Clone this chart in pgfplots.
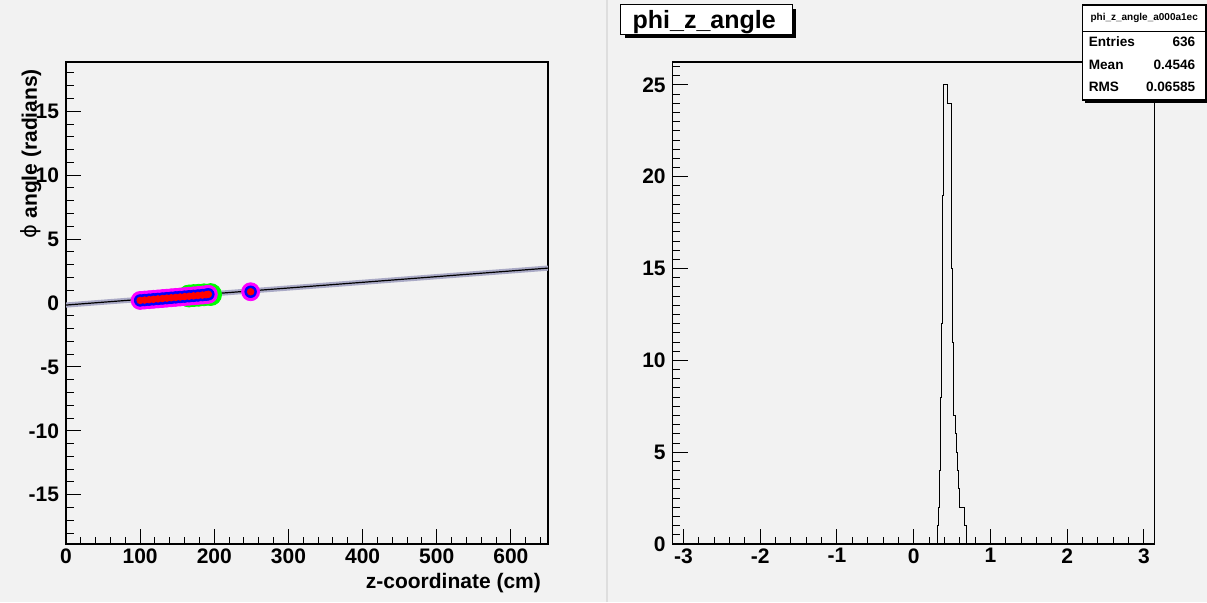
\documentclass[border=0pt]{standalone}
\usepackage{pgfplots}
\usepackage{pgfplotstable}
\pgfplotsset{compat=1.18}
\usepackage{fontspec}
\setmainfont{Liberation Sans}
\newfontfamily\symfont{DejaVu Sans}
\definecolor{bg}{RGB}{242,242,242}
\definecolor{sep}{RGB}{222,222,222}
\definecolor{band}{RGB}{170,170,198}
\definecolor{mag}{RGB}{255,0,255}
\definecolor{grn}{RGB}{0,255,0}
\definecolor{blu}{RGB}{0,0,255}
\definecolor{rd}{RGB}{255,0,0}

\pgfplotstableread{
z phi
100 0.20
106 0.23
112 0.26
118 0.29
124 0.32
130 0.35
136 0.38
142 0.41
148 0.44
154 0.47
160 0.50
166 0.53
172 0.56
178 0.59
184 0.62
189 0.65
192 0.68
249 0.88
}\hits

\pgfplotstableread{
z phi
166 0.55
172 0.58
179 0.61
186 0.64
195 0.66
}\greenhits

\pgfplotsset{rootaxis/.style={
  scale only axis, width=241pt, height=241pt,
  axis line style={line width=0.75pt},
  tick align=inside, tick pos=left,
  major tick length=7.5pt, minor tick length=3.75pt,
  every tick/.style={black, line width=0.5pt},
  ticklabel style={font=\bfseries\fontsize{10.5}{12}\selectfont},
  /pgf/number format/assume math mode=true,
  label style={font=\bfseries\fontsize{10.5}{12}\selectfont},
  axis background/.style={fill=bg},
  xticklabel style={inner sep=2pt},
}}

\begin{document}
\begin{tikzpicture}
\fill[bg] (0,0) rectangle (603.5pt,301pt);
\path[use as bounding box] (0,0) rectangle (603.5pt,301pt);
\draw[sep, line width=1pt] (303.5pt,0) -- (303.5pt,301pt);

% left pad
\begin{axis}[rootaxis, at={(33pt,29pt)}, anchor=south west,
  xmin=0, xmax=650, ymin=-18.85, ymax=18.85,
  xtick={0,100,...,600}, minor xtick={20,40,...,640},
  ytick={-15,-10,-5,0,5,10,15}, yticklabels={-15,-10,-5,0,5,10,15},
  minor ytick={-18,-17,...,18},
  xlabel={z-coordinate (cm)}, ylabel={{\symfont\mdseries ϕ} angle (radians)},
  xlabel style={at={(axis description cs:1,-0.081)}, anchor=east},
  ylabel style={at={(axis description cs:-0.0726,1)}, anchor=east},
]
\addplot[band, line width=2.6pt] coordinates {(0,-0.16) (650,2.73)};
\addplot[black, line width=0.6pt] coordinates {(0,-0.16) (650,2.73)};
\addplot[only marks, mark=*, mark size=5.5pt, mark options={draw=grn, fill=grn}] table[x=z,y=phi] {\greenhits};
\addplot[only marks, mark=*, mark size=4.5pt, mark options={draw=mag, fill=mag}] table[x=z,y=phi] {\hits};
\addplot[only marks, mark=*, mark size=2.9pt, mark options={draw=blu, fill=blu}] table[x=z,y=phi] {\hits};
\addplot[only marks, mark=*, mark size=1.65pt, mark options={draw=rd, fill=rd}] table[x=z,y=phi] {\hits};
\end{axis}

% right pad
\begin{axis}[rootaxis, at={(336.35pt,29pt)}, anchor=south west,
  xmin=-3.1416, xmax=3.1416, ymin=0, ymax=26.25,
  xtick={-3,-2,-1,0,1,2,3}, xticklabels={-3,-2,-1,0,1,2,3},
  minor xtick={-2.8,-2.6,-2.4,-2.2,-1.8,-1.6,-1.4,-1.2,-0.8,-0.6,-0.4,-0.2,0.2,0.4,0.6,0.8,1.2,1.4,1.6,1.8,2.2,2.4,2.6,2.8},
  ytick={0,5,...,25}, minor ytick={0,0.5,...,26},
]
\addplot[const plot, black, line width=0.5pt] coordinates {
(-3.1416,0) (0.308,1) (0.321,2) (0.334,4) (0.343,6) (0.352,8) (0.360,10)
(0.367,12) (0.375,15) (0.381,19) (0.386,25) (0.443,24) (0.487,19) (0.492,17)
(0.496,15) (0.504,13) (0.508,11) (0.515,9) (0.522,7) (0.543,6) (0.556,5)
(0.569,4) (0.578,3) (0.595,2) (0.656,1) (0.682,0) (3.1416,0)};
\end{axis}

% title box
\fill[black] (312.35pt,281.85pt) rectangle (398.15pt,296.65pt);
\draw[fill=white, line width=0.6pt] (310.35pt,283.85pt) rectangle (396.15pt,298.65pt);
\node[anchor=base, inner sep=0] at (352.1pt,286.9pt) {\bfseries\fontsize{12.5}{14}\selectfont phi\_z\_angle};

% stats box
\fill[black] (542.65pt,249.5pt) rectangle (605pt,297pt);
\draw[fill=white, line width=0.6pt] (541.15pt,251pt) rectangle (603pt,298.5pt);
\draw[line width=0.5pt] (541.15pt,285.15pt) -- (603pt,285.15pt);
\node[inner sep=0] at (572.1pt,292pt) {\bfseries\fontsize{5}{6}\selectfont phi\_z\_angle\_a000a1ec};
\node[anchor=west, inner sep=0] at (544.2pt,280.15pt) {\bfseries\fontsize{6.8}{8}\selectfont Entries};
\node[anchor=east, inner sep=0] at (597.8pt,280.15pt) {\bfseries\fontsize{6.8}{8}\selectfont 636};
\node[anchor=west, inner sep=0] at (544.2pt,268.5pt) {\bfseries\fontsize{6.8}{8}\selectfont Mean};
\node[anchor=east, inner sep=0] at (597.8pt,268.5pt) {\bfseries\fontsize{6.8}{8}\selectfont 0.4546};
\node[anchor=west, inner sep=0] at (544.2pt,257.35pt) {\bfseries\fontsize{6.8}{8}\selectfont RMS};
\node[anchor=east, inner sep=0] at (597.8pt,257.35pt) {\bfseries\fontsize{6.8}{8}\selectfont 0.06585};
\end{tikzpicture}
\end{document}
